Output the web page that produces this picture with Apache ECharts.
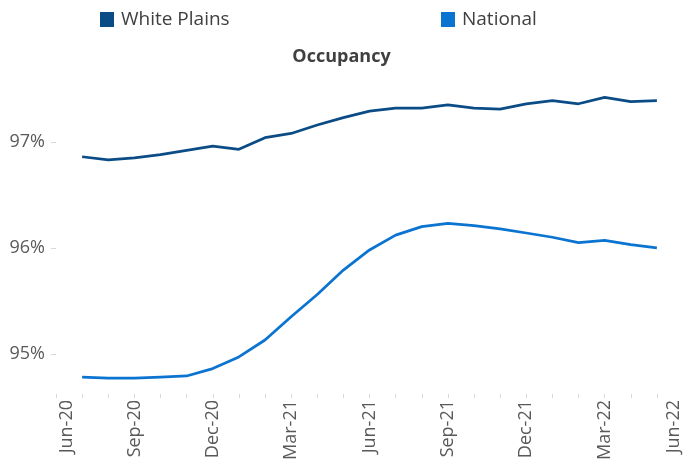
<!DOCTYPE html>
<html>
<head>
<meta charset="utf-8">
<script src="https://cdn.jsdelivr.net/npm/echarts@6/dist/echarts.min.js"></script>
<style>
html,body{margin:0;padding:0;background:#fff;}
#chart{width:683px;height:467px;}
</style>
</head>
<body>
<div id="chart"></div>
<script>
// Month tick labels (quarterly), positioned at month index 0..24 from Jun-20
var tickLabels = ["Jun-20","Sep-20","Dec-20","Mar-21","Jun-21","Sep-21","Dec-21","Mar-22","Jun-22"];
var tickMonthIndex = [0,3,6,9,12,15,18,21,24];
// Data points: month-end observations, index 1..23 on the month axis
var pointIndex = [1,2,3,4,5,6,7,8,9,10,11,12,13,14,15,16,17,18,19,20,21,22,23];
var whitePlains = [96.86,96.83,96.85,96.88,96.92,96.96,96.93,97.04,97.08,97.16,97.23,97.29,97.32,97.32,97.35,97.32,97.31,97.36,97.39,97.36,97.42,97.38,97.39];
var national = [94.78,94.77,94.77,94.78,94.79,94.86,94.97,95.13,95.35,95.56,95.79,95.98,96.12,96.20,96.23,96.21,96.18,96.14,96.10,96.05,96.07,96.03,96.00];
var yLabelValues = [95,96,97];

function pairs(xs, ys){ return xs.map(function(x,i){ return [x, ys[i]]; }); }

var FONT = '"Open Sans", sans-serif';
var chart = echarts.init(document.getElementById('chart'), null, {renderer:'canvas'});
var monthTicks = [];
for (var m = 0; m <= 24; m++) monthTicks.push(m);

chart.setOption({
  animation: false,
  backgroundColor: '#ffffff',
  title: {
    text: 'Occupancy',
    left: 'center',
    top: 48,
    padding: 0,
    textStyle: {fontFamily: FONT, fontSize: 18, fontWeight: 'bold', color: '#404040'}
  },
  legend: [
    {data: ['White Plains'], left: 100, top: 10, padding: 0, icon: 'rect', itemWidth: 14, itemHeight: 15, itemGap: 0,
     textStyle: {fontFamily: FONT, fontSize: 19, color: '#404040', padding: [0,0,0,2]}},
    {data: ['National'], left: 441, top: 10, padding: 0, icon: 'rect', itemWidth: 14, itemHeight: 15, itemGap: 0,
     textStyle: {fontFamily: FONT, fontSize: 19, color: '#404040', padding: [0,0,0,2]}}
  ],
  grid: {left: 56, right: -3, top: 36, bottom: 73, containLabel: false},
  xAxis: {
    type: 'value',
    min: 0,
    max: 24,
    splitLine: {show: false},
    axisLine: {show: false},
    axisTick: {show: true, length: 4, lineStyle: {color: '#d9d9d9', width: 1}, customValues: monthTicks},
    axisLabel: {
      rotate: 90,
      margin: 6,
      color: '#595959',
      fontFamily: FONT,
      fontSize: 18,
      customValues: tickMonthIndex,
      formatter: function(v){
        var i = tickMonthIndex.indexOf(Math.round(v));
        var t = i >= 0 ? tickLabels[i] : '';
        if (i === 0) return '{first|' + t + '}';
        if (i === tickLabels.length - 1) return '{last|' + t + '}';
        return '{n|' + t + '}';
      },
      rich: {
        n: {fontFamily: FONT, fontSize: 18, color: '#595959'},
        first: {fontFamily: FONT, fontSize: 18, color: '#595959', padding: [22,0,0,0]},
        last: {fontFamily: FONT, fontSize: 18, color: '#595959', padding: [0,0,18,0]}
      }
    }
  },
  yAxis: {
    type: 'value',
    min: 94.62,
    max: 98,
    splitLine: {show: false},
    axisLine: {show: false},
    axisTick: {show: true, length: 5, lineStyle: {color: '#d9d9d9'}, customValues: yLabelValues},
    axisLabel: {
      customValues: yLabelValues,
      margin: 11,
      color: '#595959',
      fontFamily: FONT,
      fontSize: 18,
      formatter: function(v){ return Math.round(v) + '%'; }
    }
  },
  series: [
    {name: 'White Plains', type: 'line', data: pairs(pointIndex, whitePlains), showSymbol: false, symbol: 'none',
     lineStyle: {color: '#0B4C87', width: 2.75}, itemStyle: {color: '#0B4C87'}},
    {name: 'National', type: 'line', data: pairs(pointIndex, national), showSymbol: false, symbol: 'none',
     lineStyle: {color: '#0B74D1', width: 2.75}, itemStyle: {color: '#0B74D1'}}
  ]
});
</script>
</body>
</html>
